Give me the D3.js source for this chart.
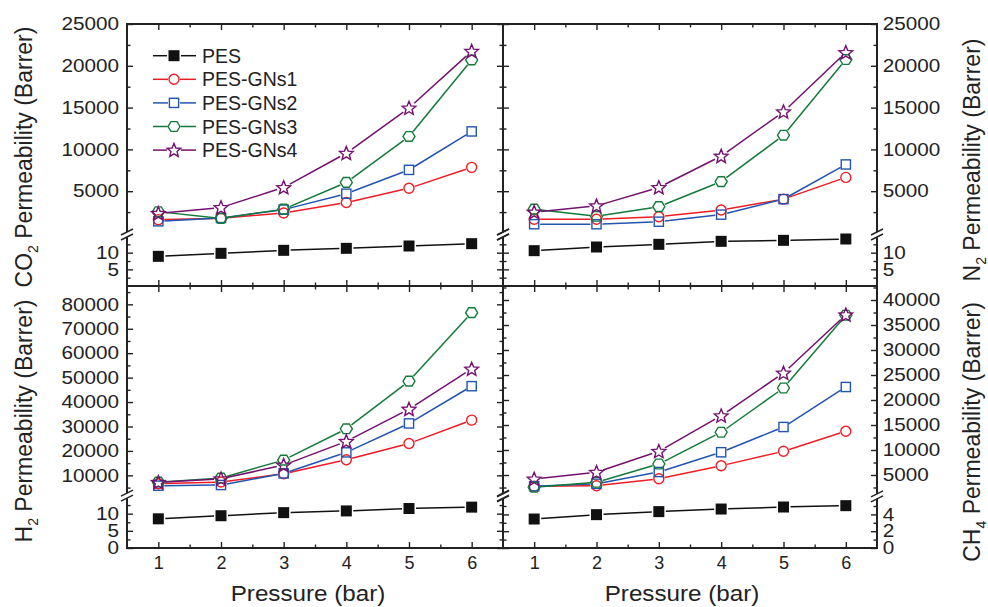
<!DOCTYPE html>
<html><head><meta charset="utf-8">
<script src="https://cdn.jsdelivr.net/npm/d3@7"></script>
<style>
html,body{margin:0;padding:0;background:#fff;}
svg{display:block;font-family:"Liberation Sans",Arial,Helvetica,sans-serif;}
</style></head><body>
<svg id="chart" width="988" height="607"></svg>
<script>
// ---------------- data ----------------
const pressure = [1, 2, 3, 4, 5, 6];
const seriesNames = ["PES", "PES-GNs1", "PES-GNs2", "PES-GNs3", "PES-GNs4"];

const co2PES   = [8.9, 9.8, 10.7, 11.3, 12.0, 12.7];
const co2GNs1  = [1600, 1750, 2400, 3650, 5350, 7850];
const co2GNs2  = [1400, 1800, 2800, 4700, 7550, 12150];
const co2GNs3  = [2550, 1750, 2850, 6050, 11550, 20700];
const co2GNs4  = [2350, 3050, 5450, 9550, 14950, 21750];

const n2PES    = [10.6, 11.7, 12.5, 13.4, 13.7, 14.1];
const n2GNs1   = [1650, 1650, 1950, 2750, 4050, 6650];
const n2GNs2   = [1050, 1050, 1350, 2200, 4050, 8200];
const n2GNs3   = [2850, 2000, 3150, 6150, 11700, 20750];
const n2GNs4   = [2500, 3250, 5450, 9200, 14500, 21600];

const h2PES    = [8.5, 9.4, 10.3, 10.8, 11.5, 11.9];
const h2GNs1   = [6550, 7250, 10650, 16400, 23050, 32600];
const h2GNs2   = [5750, 6050, 10800, 19400, 31250, 46500];
const h2GNs3   = [7250, 8900, 16250, 29050, 48550, 76600];
const h2GNs4   = [7150, 8600, 14200, 23900, 37100, 53550];

const ch4PES   = [3.45, 3.97, 4.33, 4.64, 4.88, 5.04];
const ch4GNs1  = [2750, 2850, 4250, 6850, 9750, 13750];
const ch4GNs2  = [2750, 3250, 5600, 9550, 14600, 22600];
const ch4GNs3  = [2550, 3550, 7200, 13550, 22400, 36950];
const ch4GNs4  = [4200, 5550, 9750, 16850, 25400, 37050];

// tick values
const xTicks = [1, 2, 3, 4, 5, 6];
const xMinorTicks = [1.5, 2.5, 3.5, 4.5, 5.5];
const co2Ticks = [5000, 10000, 15000, 20000, 25000];
const co2Minor = [2500, 7500, 12500, 17500, 22500];
const n2Ticks = [5000, 10000, 15000, 20000, 25000];
const n2Minor = [2500, 7500, 12500, 17500, 22500];
const h2Ticks = [10000, 20000, 30000, 40000, 50000, 60000, 70000, 80000];
const h2Minor = [5000, 15000, 25000, 35000, 45000, 55000, 65000, 75000, 85000];
const ch4Ticks = [5000, 10000, 15000, 20000, 25000, 30000, 35000, 40000];
const ch4Minor = [2500, 7500, 12500, 17500, 22500, 27500, 32500, 37500, 42500];
const lowTicksTop = [5, 10];
const lowMinorTop = [2.5, 7.5, 12.5];
const lowTicksH2 = [0, 5, 10];
const lowMinorH2 = [2.5, 7.5, 12.5];
const lowTicksCH4 = [0, 2, 4];
const lowMinorCH4 = [1, 3, 5];

// ---------------- styles ----------------
const colors = ["#111111", "#ee1c25", "#2255b0", "#137a3b", "#74106f"];
const shapes = ["filledSquare", "circle", "square", "hexagon", "star"];
const ink = "#222";

const svg = d3.select("#chart");

const panels = [
  { title: ["CO", "2"], side: "left", x0: 127, x1: 503, y0: 24, y1: 286, xLabels: false,
    titleX: 32, titleY: 157,
    upper: { domain: [0, 25000], range: [233, 24], ticks: co2Ticks, minor: co2Minor },
    lower: { domain: [0, 15], range: [286, 236], ticks: lowTicksTop, minor: lowMinorTop },
    data: [co2PES, co2GNs1, co2GNs2, co2GNs3, co2GNs4] },
  { title: ["N", "2"], side: "right", x0: 503, x1: 877, y0: 24, y1: 286, xLabels: false,
    titleX: 980, titleY: 160,
    upper: { domain: [0, 25000], range: [233, 24], ticks: n2Ticks, minor: n2Minor },
    lower: { domain: [0, 15], range: [286, 236], ticks: lowTicksTop, minor: lowMinorTop },
    data: [n2PES, n2GNs1, n2GNs2, n2GNs3, n2GNs4] },
  { title: ["H", "2"], side: "left", x0: 127, x1: 503, y0: 286, y1: 548, xLabels: true,
    titleX: 32, titleY: 421, labelX: 308,
    upper: { domain: [2000, 87500], range: [494.9, 286], ticks: h2Ticks, minor: h2Minor },
    lower: { domain: [0, 15], range: [548, 496.5], ticks: lowTicksH2, minor: lowMinorH2 },
    data: [h2PES, h2GNs1, h2GNs2, h2GNs3, h2GNs4] },
  { title: ["CH", "4"], side: "right", x0: 503, x1: 877, y0: 286, y1: 548, xLabels: true,
    titleX: 980, titleY: 432, labelX: 682,
    upper: { domain: [1000, 42800], range: [495, 286], ticks: ch4Ticks, minor: ch4Minor },
    lower: { domain: [0, 6], range: [548, 497.6], ticks: lowTicksCH4, minor: lowMinorCH4 },
    data: [ch4PES, ch4GNs1, ch4GNs2, ch4GNs3, ch4GNs4] }
];

function styleAxis(g, labelled) {
  g.select(".domain").remove();
  g.selectAll(".tick line").attr("stroke", ink).attr("stroke-width", 1.4);
  g.selectAll(".tick text").attr("fill", ink).attr("font-size", 18)
    .attr("font-family", '"Liberation Sans",Arial,sans-serif');
  if (!labelled) g.selectAll(".tick text").remove();
}

function drawMarker(g, shape, cx, cy, color) {
  if (shape === "filledSquare") {
    g.append("rect").attr("x", cx - 5.5).attr("y", cy - 5.5).attr("width", 11).attr("height", 11)
      .attr("fill", color);
  } else if (shape === "circle") {
    g.append("circle").attr("cx", cx).attr("cy", cy).attr("r", 5)
      .attr("fill", "none").attr("stroke", color).attr("stroke-width", 1.4);
  } else if (shape === "square") {
    g.append("rect").attr("x", cx - 4.6).attr("y", cy - 4.6).attr("width", 9.2).attr("height", 9.2)
      .attr("fill", "none").attr("stroke", color).attr("stroke-width", 1.4);
  } else if (shape === "hexagon") {
    const pts = d3.range(6).map(k => {
      const a = Math.PI / 3 * k;
      return [cx + 6 * Math.cos(a), cy + 5.6 * Math.sin(a)];
    });
    g.append("polygon").attr("points", pts.map(p => p.join(",")).join(" "))
      .attr("fill", "none").attr("stroke", color).attr("stroke-width", 1.4);
  } else if (shape === "star") {
    const pts = d3.range(10).map(k => {
      const r = k % 2 === 0 ? 7.2 : 3.2;
      const a = -Math.PI / 2 + Math.PI / 5 * k;
      return [cx + r * Math.cos(a), cy + 0.5 + r * Math.sin(a)];
    });
    g.append("polygon").attr("points", pts.map(p => p.join(",")).join(" "))
      .attr("fill", "none").attr("stroke", color).attr("stroke-width", 1.4);
  }
}
const gapR = [6.5, 5.5, 5.5, 6, 6.5];

panels.forEach(p => {
  const g = svg.append("g");
  const x = d3.scaleLinear().domain([0.5, 6.5]).range([p.x0, p.x1]);
  const yU = d3.scaleLinear().domain(p.upper.domain).range(p.upper.range);
  const yL = d3.scaleLinear().domain(p.lower.domain).range(p.lower.range);

  // x axes (bottom and top), inward ticks
  const xb = g.append("g").attr("transform", `translate(0,${p.y1})`)
    .call(d3.axisBottom(x).tickValues(xTicks).tickSize(-6).tickPadding(8).tickFormat(d3.format("d")));
  styleAxis(xb, p.xLabels);
  const xbm = g.append("g").attr("transform", `translate(0,${p.y1})`)
    .call(d3.axisBottom(x).tickValues(xMinorTicks).tickSize(-3.5).tickFormat(""));
  styleAxis(xbm, false);
  const xt = g.append("g").attr("transform", `translate(0,${p.y0})`)
    .call(d3.axisTop(x).tickValues(xTicks).tickSize(-6).tickFormat(""));
  styleAxis(xt, false);
  const xtm = g.append("g").attr("transform", `translate(0,${p.y0})`)
    .call(d3.axisTop(x).tickValues(xMinorTicks).tickSize(-3.5).tickFormat(""));
  styleAxis(xtm, false);

  // y axes for both segments, both sides
  [[yU, p.upper], [yL, p.lower]].forEach(([sc, seg]) => {
    const labL = p.side === "left";
    const la = g.append("g").attr("transform", `translate(${p.x0},0)`)
      .call(d3.axisLeft(sc).tickValues(seg.ticks).tickSize(-6).tickPadding(7).tickFormat(d3.format("d")));
    styleAxis(la, labL);
    la.selectAll(".tick text").attr("transform", "scale(1.15,1)");
    const lam = g.append("g").attr("transform", `translate(${p.x0},0)`)
      .call(d3.axisLeft(sc).tickValues(seg.minor).tickSize(-3.5).tickFormat(""));
    styleAxis(lam, false);
    const ra = g.append("g").attr("transform", `translate(${p.x1},0)`)
      .call(d3.axisRight(sc).tickValues(seg.ticks).tickSize(-6).tickPadding(5).tickFormat(d3.format("d")));
    styleAxis(ra, !labL);
    ra.selectAll(".tick text").attr("transform", "scale(1.15,1)");
    const ram = g.append("g").attr("transform", `translate(${p.x1},0)`)
      .call(d3.axisRight(sc).tickValues(seg.minor).tickSize(-3.5).tickFormat(""));
    styleAxis(ram, false);
  });

  // frame with breaks
  const yb = (p.upper.range[0] + p.lower.range[1]) / 2;
  const fr = g.append("g").attr("stroke", ink).attr("stroke-width", 2).attr("fill", "none");
  fr.append("line").attr("x1", p.x0 - 1).attr("x2", p.x1 + 1).attr("y1", p.y0).attr("y2", p.y0);
  fr.append("line").attr("x1", p.x0 - 1).attr("x2", p.x1 + 1).attr("y1", p.y1).attr("y2", p.y1);
  [p.x0, p.x1].forEach(xx => {
    fr.append("line").attr("x1", xx).attr("x2", xx).attr("y1", p.y0).attr("y2", yb - 2.5);
    fr.append("line").attr("x1", xx).attr("x2", xx).attr("y1", yb + 2.5).attr("y2", p.y1);
    [-2.5, 2.5].forEach(o => {
      fr.append("line").attr("stroke-width", 1.5)
        .attr("x1", xx - 6).attr("y1", yb + o + 3).attr("x2", xx + 6).attr("y2", yb + o - 3);
    });
  });

  // series
  p.data.forEach((vals, i) => {
    const ys = i === 0 ? yL : yU;
    const pts = pressure.map((pr, k) => [x(pr), ys(vals[k])]);
    const sg = g.append("g");
    for (let k = 0; k < pts.length - 1; k++) {
      const [ax, ay] = pts[k], [bx, by] = pts[k + 1];
      const dx = bx - ax, dy = by - ay, len = Math.hypot(dx, dy);
      const r = gapR[i] + 0.5;
      if (len <= 2 * r) continue;
      sg.append("line")
        .attr("x1", ax + dx / len * r).attr("y1", ay + dy / len * r)
        .attr("x2", bx - dx / len * r).attr("y2", by - dy / len * r)
        .attr("stroke", colors[i]).attr("stroke-width", 1.5);
    }
    pts.forEach(pt => drawMarker(sg, shapes[i], pt[0], pt[1], colors[i]));
  });

  // y title
  const t = svg.append("text")
    .attr("transform", `translate(${p.titleX},${p.titleY}) rotate(-90)`)
    .attr("text-anchor", "middle").attr("font-size", 23).attr("fill", ink);
  t.append("tspan").text(p.title[0]);
  t.append("tspan").text(p.title[1]).attr("font-size", 14).attr("dy", 6);
  t.append("tspan").text(" Permeability (Barrer)").attr("dy", -6);

  // x title
  if (p.xLabels) {
    svg.append("text")
      .attr("transform", `translate(${p.labelX},601) scale(1.1,1)`)
      .attr("text-anchor", "middle").attr("font-size", 22).attr("fill", ink)
      .text("Pressure (bar)");
  }
});

// legend
const lg = svg.append("g");
seriesNames.forEach((name, i) => {
  const cy = 55.7 + i * 23.6;
  const r = gapR[i];
  lg.append("line").attr("x1", 153).attr("x2", 174 - r - 0.5).attr("y1", cy).attr("y2", cy)
    .attr("stroke", colors[i]).attr("stroke-width", 1.5);
  lg.append("line").attr("x1", 174 + r + 0.5).attr("x2", 196).attr("y1", cy).attr("y2", cy)
    .attr("stroke", colors[i]).attr("stroke-width", 1.5);
  drawMarker(lg, shapes[i], 174, cy, colors[i]);
  lg.append("text").attr("x", 202).attr("y", cy + 7).attr("font-size", 19.5).attr("fill", ink).text(name);
});
</script>
</body></html>
